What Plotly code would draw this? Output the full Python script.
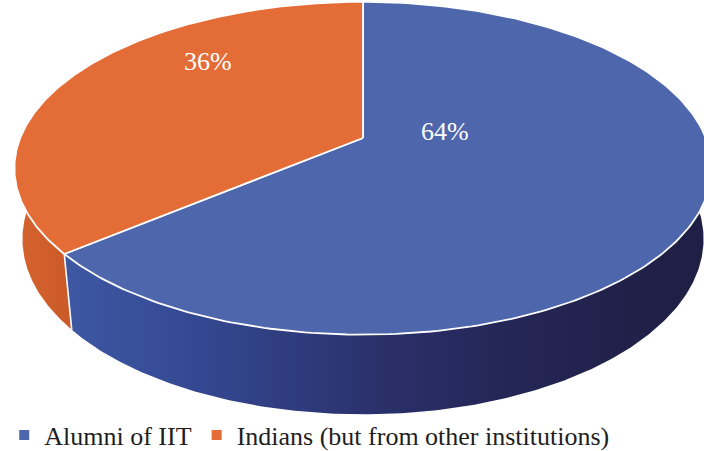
import numpy as np
import plotly.graph_objects as go

# ---- data -------------------------------------------------------------
categories = ["Alumni of IIT", "Indians (but from other institutions)"]
shares = [64, 36]

# ---- style ------------------------------------------------------------
top_colors = ["#4E66AB", "#E46C36"]
# horizontal shading of each slice's visible wall (left -> right)
side_scales = [
    [[0.0, "rgb(62,88,164)"], [0.21, "rgb(52,72,145)"], [0.49, "rgb(42,48,106)"],
     [0.68, "rgb(36,38,86)"], [0.9, "rgb(32,32,72)"], [1.0, "rgb(31,31,68)"]],
    [[0.0, "rgb(214,100,48)"], [1.0, "rgb(202,90,40)"]],
]
FONT = "Liberation Serif, DejaVu Serif, serif"

# canvas in pixels; the pie is projected with a simple perspective camera
W, H = 704, 451
CX, CY = 363.0, 138.0          # screen position of the pie centre
ELEV = np.radians(28.0)        # camera elevation
DIST = 4.857                   # camera distance (in pie radii)
FOCAL = 1665.0                 # focal length in pixels
THICK = 0.236                  # pie thickness (in pie radii)
# label anchors on the pie top, as (radius fraction, angle in degrees)
label_anchor = [(0.245, 10.0), (0.715, 133.7)]


def project(x, y, z):
    """Perspective projection of pie-space points to screen pixels."""
    x, y, z = np.asarray(x, float), np.asarray(y, float), np.asarray(z, float)
    depth = DIST + y * np.cos(ELEV) - z * np.sin(ELEV)
    sx = FOCAL * x / depth
    sy = FOCAL * (y * np.sin(ELEV) + z * np.cos(ELEV)) / depth
    return CX + sx, CY - sy


def rim(phi, z):
    return project(np.cos(phi), np.sin(phi), np.full_like(phi, z))


# slice angles: first slice starts at 12 o'clock and runs clockwise
total = float(sum(shares))
spans = [2 * np.pi * v / total for v in shares]
starts = []
a = np.pi / 2
for sp in spans:
    starts.append(a)
    a -= sp
# slice i covers angles [starts[i] - spans[i], starts[i]]

fig = go.Figure()

# ---- visible side wall (front half) -----------------------------------
front_lo, front_hi = np.radians(170.0), np.radians(370.0)
for i in range(len(shares)):
    lo, hi = starts[i] - spans[i], starts[i]
    while hi < front_lo:
        lo += 2 * np.pi
        hi += 2 * np.pi
    seg_lo, seg_hi = max(lo, front_lo), min(hi, front_hi)
    if seg_hi <= seg_lo:
        continue
    ph = np.linspace(seg_lo, seg_hi, 300)
    tx, ty = rim(ph, 0.0)
    bx, by = rim(ph, -THICK)
    fig.add_trace(go.Scatter(
        x=np.concatenate([tx, bx[::-1], tx[:1]]),
        y=np.concatenate([ty, by[::-1], ty[:1]]),
        mode="lines", fill="toself",
        fillgradient=dict(type="horizontal", colorscale=side_scales[i]),
        line=dict(width=0), hoverinfo="skip", showlegend=False))

# white seams where slices meet on the visible wall
for i in range(len(shares)):
    ph = starts[i]
    if np.sin(ph) < -0.2:
        tx, ty = rim(np.array([ph]), 0.0)
        bx, by = rim(np.array([ph]), -THICK)
        fig.add_trace(go.Scatter(
            x=[tx[0], bx[0]], y=[ty[0], by[0]], mode="lines",
            line=dict(color="white", width=1.6),
            hoverinfo="skip", showlegend=False))

# ---- top faces -------------------------------------------------------
for i in range(len(shares)):
    ph = np.linspace(starts[i], starts[i] - spans[i], 240)
    ex, ey = rim(ph, 0.0)
    cx, cy = project(0, 0, 0)
    fig.add_trace(go.Scatter(
        x=np.concatenate([[cx], ex, [cx]]),
        y=np.concatenate([[cy], ey, [cy]]),
        mode="lines", fill="toself", fillcolor=top_colors[i],
        line=dict(color="white", width=1.8),
        hoverinfo="text", text=categories[i], showlegend=False))

# ---- percentage labels ----------------------------------------------
for i in range(len(shares)):
    r, ang = label_anchor[i]
    ang = np.radians(ang)
    lx, ly = project(r * np.cos(ang), r * np.sin(ang), 0.0)
    fig.add_annotation(x=float(lx), y=float(ly), text=f"{shares[i]}%",
                       showarrow=False, xanchor="center", yanchor="middle",
                       font=dict(family=FONT, size=26, color="white"))

# ---- legend entries --------------------------------------------------
for i in range(len(shares)):
    fig.add_trace(go.Scatter(
        x=[None], y=[None], mode="markers", name=categories[i],
        marker=dict(symbol="square", size=10, color=top_colors[i])))

fig.update_layout(
    width=W, height=H,
    margin=dict(l=0, r=0, t=0, b=0, autoexpand=False),
    paper_bgcolor="white", plot_bgcolor="white",
    font=dict(family=FONT, size=26, color="#1e1e1e"),
    xaxis=dict(range=[0, W], visible=False, fixedrange=True),
    yaxis=dict(range=[H, 0], visible=False, fixedrange=True),
    legend=dict(orientation="h", x=0.006, xanchor="left", y=0.035, yanchor="middle",
                font=dict(family=FONT, size=26, color="#1e1e1e"),
                itemwidth=30, bgcolor="rgba(0,0,0,0)"),
)

fig.write_html("out.html")
